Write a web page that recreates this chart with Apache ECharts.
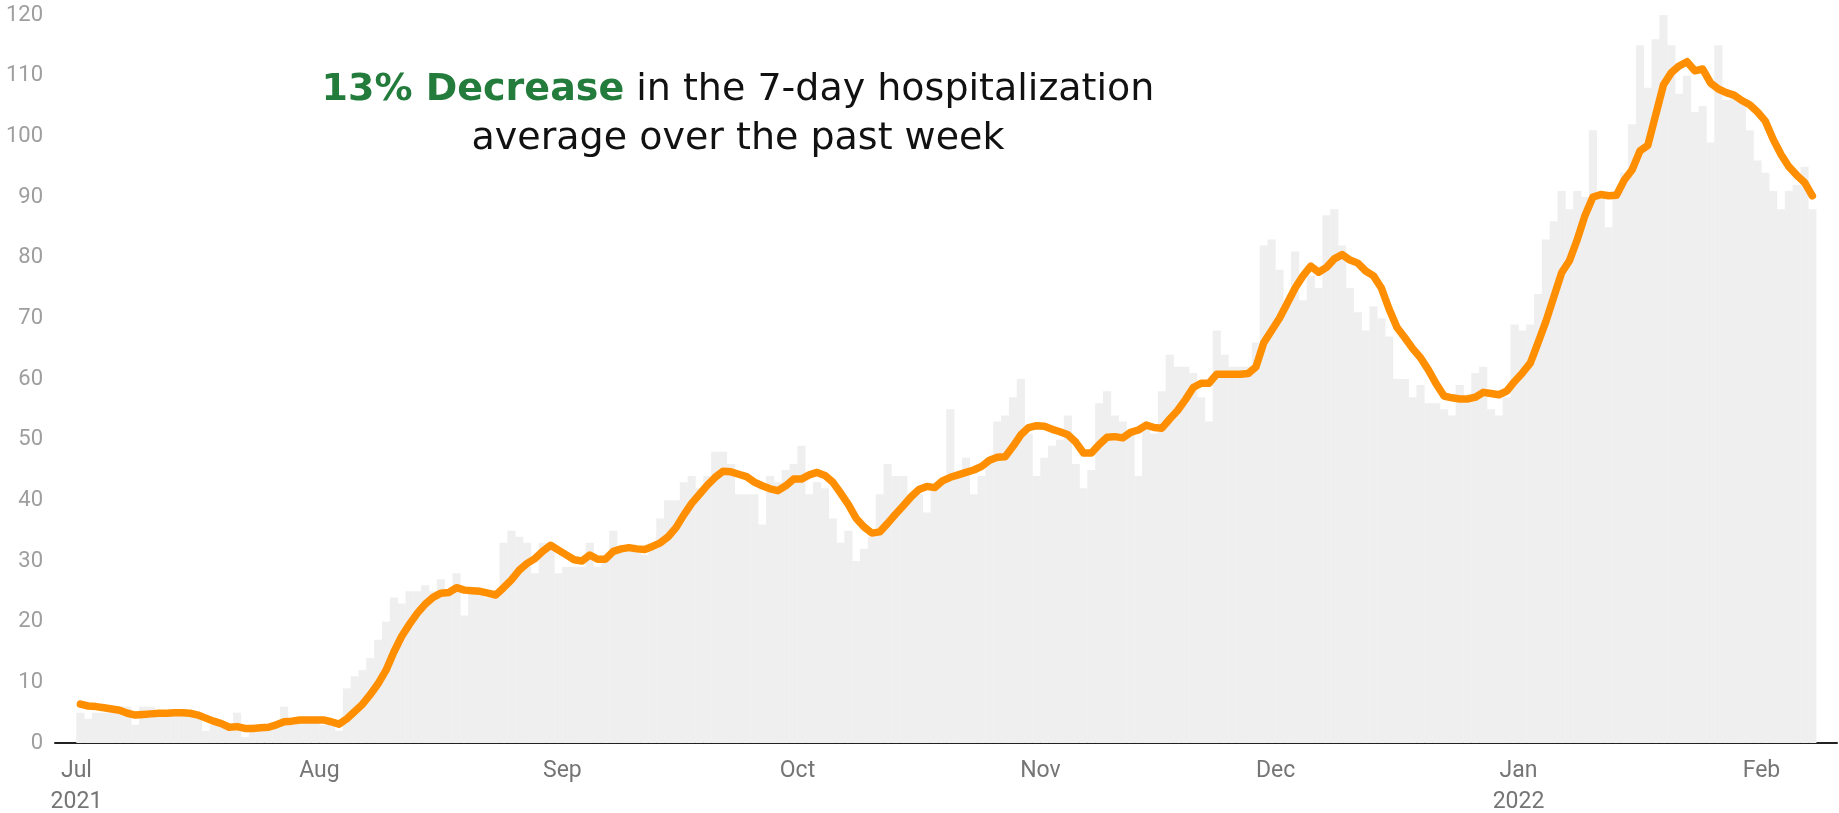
<!DOCTYPE html>
<html>
<head>
<meta charset="utf-8">
<script src="https://cdn.jsdelivr.net/npm/echarts@6/dist/echarts.min.js"></script>
<style>
  html, body { margin: 0; padding: 0; background: #ffffff; }
  #chart { width: 1839px; height: 813px; }
</style>
</head>
<body>
<div id="chart"></div>
<script>
// Daily hospital admissions (gray bars), one value per day from 2021-07-01
const barsJul = [5,4,5,5,5,6,6,3,6,6,5,5,5,5,5,4,2,3,3,3,5,1,3,2,3,3,6,4,4,4,4];
const barsAug = [3,3,2,9,11,12,14,17,20,24,23,25,25,26,25,27,25,28,21,25,25,24,24,33,35,34,33,28,33,33,28];
const barsSep = [29,29,29,33,29,31,35,32,32,32,31,33,37,40,40,43,44,42,44,48,48,46,41,41,41,36,44,43,45,46];
const barsOct = [49,41,43,42,37,33,35,30,32,34,41,46,44,44,41,41,38,42,43,55,44,47,41,44,47,53,54,57,60,51,44];
const barsNov = [47,49,50,54,46,42,45,56,58,54,53,51,44,52,51,58,64,62,62,61,57,53,68,64,62,62,62,66,82,83];
const barsDec = [78,73,81,73,77,75,87,88,82,75,71,68,72,70,67,60,60,57,59,56,56,55,54,59,56,61,62,55,54,57,69];
const barsJan = [68,69,74,83,86,91,88,91,90,101,90,85,91,94,102,115,108,116,120,115,107,110,104,105,99,115,106,107,106,101,96];
const barsFeb = [94,91,88,91,92,95,88];

// 7-day hospitalization average (orange line), one value per day
const avgJul = [6.4,6.1,6.0,5.8,5.6,5.4,4.9,4.6,4.7,4.8,4.9,4.9,5.0,5.0,4.9,4.6,4.1,3.6,3.2,2.6,2.7,2.4,2.4,2.5,2.6,3.0,3.5,3.6,3.8,3.8,3.8];
const avgAug = [3.8,3.5,3.1,4.0,5.2,6.4,8.0,9.8,12.0,15.0,17.6,19.6,21.4,22.9,24.0,24.7,24.8,25.6,25.2,25.1,25.0,24.7,24.4,25.6,26.9,28.5,29.6,30.4,31.6,32.6,31.8];
const avgSep = [31.0,30.2,30.0,31.0,30.3,30.3,31.6,32.0,32.2,32.0,31.9,32.4,33.0,34.0,35.5,37.6,39.5,41.0,42.5,43.8,44.8,44.7,44.3,43.9,43.0,42.4,41.9,41.6,42.4,43.5];
const avgOct = [43.5,44.2,44.6,44.1,43.0,41.2,39.3,37.0,35.6,34.6,34.8,36.2,37.7,39.1,40.6,41.8,42.3,42.1,43.2,43.8,44.2,44.6,45.0,45.6,46.6,47.1,47.2,48.9,50.8,52.0,52.3];
const avgNov = [52.2,51.7,51.3,50.8,49.6,47.8,47.8,49.2,50.4,50.5,50.3,51.2,51.6,52.4,52.0,51.9,53.4,54.8,56.6,58.6,59.3,59.3,60.8,60.8,60.8,60.8,60.9,62.0,66.0,68.0];
const avgDec = [70.0,72.5,75.0,77.0,78.6,77.6,78.4,79.8,80.5,79.6,79.1,77.8,77.0,75.0,71.5,68.5,66.8,65.0,63.5,61.5,59.2,57.2,56.9,56.7,56.7,57.0,57.8,57.6,57.4,58.0,59.6];
const avgJan = [61.0,62.6,66.0,69.5,73.5,77.5,79.5,83.0,87.0,90.0,90.4,90.2,90.3,92.8,94.5,97.6,98.5,103.5,108.5,110.5,111.6,112.3,110.8,111.1,108.8,107.8,107.2,106.8,105.9,105.2,104.0];
const avgFeb = [102.5,99.5,97.0,95.0,93.6,92.4,90.2];

const startDate = '2021-07-01';
const monthNames = ['Jan','Feb','Mar','Apr','May','Jun','Jul','Aug','Sep','Oct','Nov','Dec'];
const yTicks = [0,10,20,30,40,50,60,70,80,90,100,110,120];

const daily = [].concat(barsJul, barsAug, barsSep, barsOct, barsNov, barsDec, barsJan, barsFeb);
const avg7 = [].concat(avgJul, avgAug, avgSep, avgOct, avgNov, avgDec, avgJan, avgFeb);
const nDays = daily.length;

const DAY = 86400000;
const start = Date.parse(startDate + 'T00:00:00Z');
const monthTicks = [];
const monthLabel = {};
for (let i = 0; i < nDays; i++) {
  const d = new Date(start + i * DAY);
  if (d.getUTCDate() === 1) {
    monthTicks.push(i);
    const m = d.getUTCMonth();
    monthLabel[i] = monthNames[m] + ((i === 0 || m === 0) ? '\n' + d.getUTCFullYear() : '');
  }
}

const barData = daily.map((v, i) => [i + 0.5, v]);
const lineData = avg7.map((v, i) => [i + 0.5, v]);

const chart = echarts.init(document.getElementById('chart'), null, { renderer: 'canvas' });
chart.setOption({
  animation: false,
  backgroundColor: '#ffffff',
  title: {
    text: '{g|13% Decrease}{n| in the 7-day hospitalization}\n{n|average over the past week}',
    left: 733,
    top: 61,
    textAlign: 'center',
    textStyle: {
      fontFamily: 'DejaVu Sans',
      fontSize: 38,
      lineHeight: 48.5,
      color: '#111111',
      rich: {
        g: { fontFamily: 'DejaVu Sans', fontSize: 38, lineHeight: 48.5, fontWeight: 'bold', color: '#237c3c' },
        n: { fontFamily: 'DejaVu Sans', fontSize: 38, lineHeight: 48.5, fontWeight: 'normal', color: '#111111' }
      }
    }
  },
  grid: { left: 55, right: 2, top: 15, bottom: 70, containLabel: false, outerBoundsMode: 'none' },
  xAxis: {
    type: 'value',
    min: -2.74,
    max: nDays + 2.64,
    splitLine: { show: false },
    axisTick: { show: false },
    axisLine: { show: true, lineStyle: { color: '#222222', width: 2 } },
    axisLabel: {
      customValues: monthTicks,
      formatter: v => monthLabel[Math.round(v)] || '',
      color: '#757575',
      fontFamily: 'Roboto',
      fontSize: 23,
      lineHeight: 31,
      margin: 13,
      align: 'center'
    }
  },
  yAxis: {
    type: 'value',
    min: yTicks[0],
    max: yTicks[yTicks.length - 1],
    interval: yTicks[1] - yTicks[0],
    splitLine: { show: false },
    axisLine: { show: false },
    axisTick: { show: false },
    axisLabel: {
      color: '#9e9e9e',
      fontFamily: 'Roboto',
      fontSize: 22,
      margin: 12
    }
  },
  series: [
    {
      type: 'bar',
      data: barData,
      barWidth: '104%',
      itemStyle: { color: '#efefef' },
      z: 1
    },
    {
      type: 'line',
      data: lineData,
      showSymbol: false,
      smooth: false,
      lineStyle: { color: '#ff8f00', width: 7.5, cap: 'round', join: 'round' },
      z: 3
    }
  ]
});
</script>
</body>
</html>
